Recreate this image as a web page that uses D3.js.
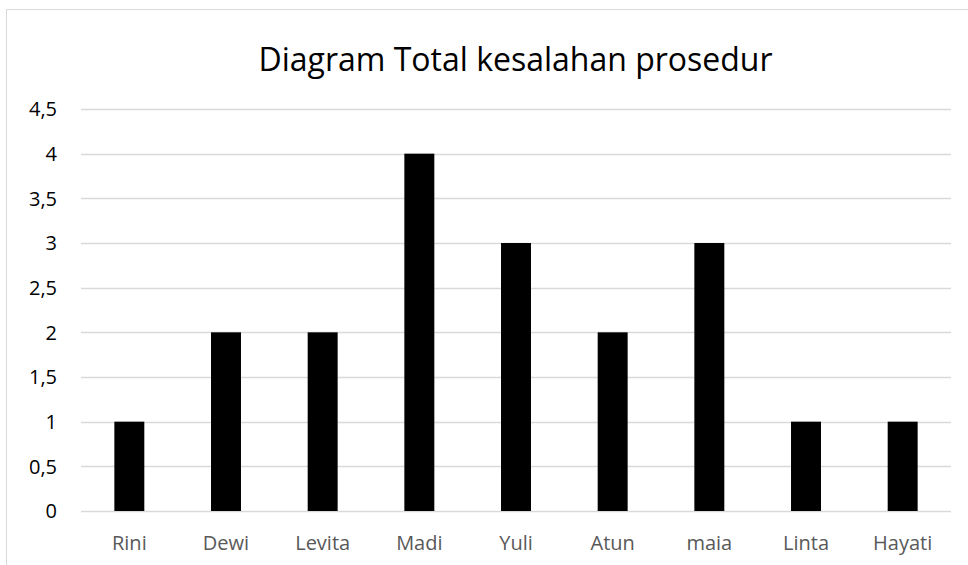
<!DOCTYPE html>
<html lang="id">
<head>
<meta charset="utf-8">
<title>Diagram Total kesalahan prosedur</title>
<script src="https://cdn.jsdelivr.net/npm/d3@7"></script>
<style>
  body { margin: 0; background: #fff; }
  svg { display: block; font-family: "Open Sans", sans-serif; }
</style>
</head>
<body>
<script>
// data
var names = ["Rini", "Dewi", "Levita", "Madi", "Yuli", "Atun", "maia", "Linta", "Hayati"];
var totals = [1, 2, 2, 4, 3, 2, 3, 1, 1];
var yTicks = [0, 0.5, 1, 1.5, 2, 2.5, 3, 3.5, 4, 4.5];
var chartTitle = "Diagram Total kesalahan prosedur";

var w = 968, h = 565;
var plotLeft = 81, plotRight = 951, plotTop = 109, plotBottom = 511;

var svg = d3.select("body").append("svg")
  .attr("width", w)
  .attr("height", h);

// chart frame (only left and top edges are visible)
svg.append("path")
  .attr("d", "M6.5,565 V9.5 H968")
  .attr("fill", "none")
  .attr("stroke", "#d9d9d9")
  .attr("stroke-width", 1);

var x = d3.scaleBand()
  .domain(names)
  .range([plotLeft, plotRight])
  .paddingInner(0.69)
  .paddingOuter(0.345);

var y = d3.scaleLinear()
  .domain([0, 4.5])
  .range([plotBottom, plotTop]);

// gridlines
svg.append("g")
  .selectAll("line")
  .data(yTicks)
  .enter()
  .append("line")
  .attr("x1", plotLeft)
  .attr("x2", plotRight)
  .attr("y1", function(d) { return Math.round(y(d)) + 0.5; })
  .attr("y2", function(d) { return Math.round(y(d)) + 0.5; })
  .attr("stroke", "#d9d9d9")
  .attr("stroke-width", 1.5);

// y labels
svg.append("g")
  .selectAll("text")
  .data(yTicks)
  .enter()
  .append("text")
  .attr("x", 57)
  .attr("y", function(d) { return y(d); })
  .attr("dy", "0.36em")
  .attr("text-anchor", "end")
  .attr("font-size", 20)
  .attr("fill", "#000")
  .text(function(d) { return String(d).replace(".", ","); });

// bars
svg.append("g")
  .selectAll("rect")
  .data(totals)
  .enter()
  .append("rect")
  .attr("x", function(d, i) { return x(names[i]); })
  .attr("y", function(d) { return y(d); })
  .attr("width", x.bandwidth())
  .attr("height", function(d) { return y(0) - y(d); })
  .attr("fill", "#000");

// x labels
svg.append("g")
  .selectAll("text")
  .data(names)
  .enter()
  .append("text")
  .attr("x", function(d) { return x(d) + x.bandwidth() / 2; })
  .attr("y", 550)
  .attr("text-anchor", "middle")
  .attr("font-size", 20)
  .attr("fill", "#595959")
  .text(function(d) { return d; });

// title
svg.append("text")
  .attr("x", (258 + 773) / 2)
  .attr("y", 71)
  .attr("text-anchor", "middle")
  .attr("font-size", 32)
  .attr("fill", "#000")
  .text(chartTitle);
</script>
</body>
</html>
